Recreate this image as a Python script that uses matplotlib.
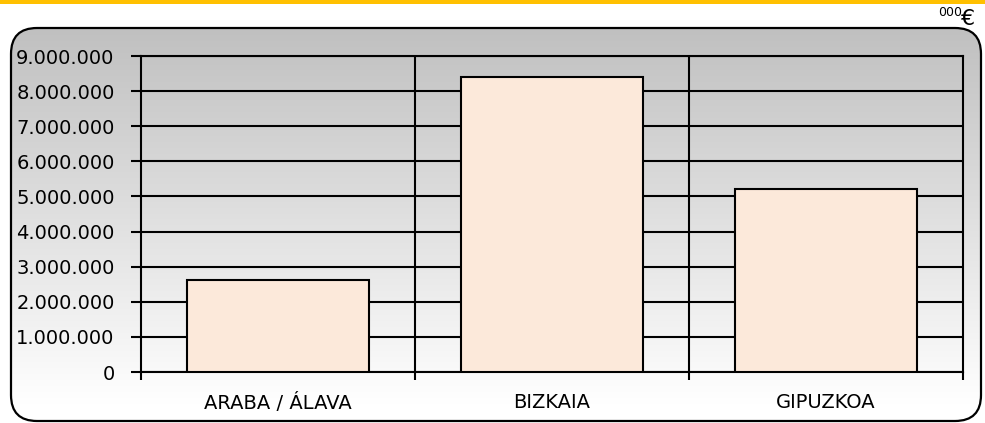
import numpy as np
import matplotlib.pyplot as plt
from matplotlib.patches import FancyBboxPatch, Rectangle
from matplotlib.ticker import FuncFormatter

# --- data ---
provinces = ['ARABA / ÁLAVA', 'BIZKAIA', 'GIPUZKOA']
values = [2630000, 8410000, 5200000]
y_ticks = np.arange(0, 9000001, 1000000)

W, H = 985, 423
fig = plt.figure(figsize=(W / 100, H / 100), dpi=100)
plt.rcParams['font.family'] = ['DejaVu Sans']

# background layer in pixel coords
bg = fig.add_axes([0, 0, 1, 1], zorder=0)
bg.set_xlim(0, W)
bg.set_ylim(H, 0)
bg.axis('off')

# yellow strip at top
bg.add_patch(Rectangle((0, 0), W, 4, facecolor='#FFC000', edgecolor='none'))

# rounded chart area with grey-to-white gradient
bx, by, bw, bh = 11, 28, 970, 393
box = FancyBboxPatch((bx, by), bw, bh, boxstyle='round,pad=0,rounding_size=26',
                     facecolor='none', edgecolor='black', linewidth=1.6, zorder=3)
bg.add_patch(box)
grad = np.linspace(0, 1, 256).reshape(-1, 1)
top_c = np.array([0.753, 0.753, 0.753])
bot_c = np.array([1.0, 1.0, 1.0])
img = top_c + (bot_c - top_c) * grad[..., None]
im = bg.imshow(img, extent=(bx, bx + bw, 405, by), aspect='auto', zorder=1)
clip = FancyBboxPatch((bx, by), bw, bh, boxstyle='round,pad=0,rounding_size=26',
                      facecolor='none', edgecolor='none', transform=bg.transData)
im.set_clip_path(clip)
bg.set_xlim(0, W)
bg.set_ylim(H, 0)

# units label
bg.text(962, 16, '000', fontsize=9, ha='right', va='baseline')
bg.text(961, 25, '€', fontsize=16, ha='left', va='baseline')

# --- main axes ---
ax = fig.add_axes([141 / W, (H - 372) / H, (963 - 141) / W, (372 - 56) / H], zorder=2)
ax.patch.set_alpha(0)
x = np.arange(len(provinces))
ax.bar(x, values, width=0.667, color='#FCE9DA', edgecolor='black', linewidth=1.5, zorder=3)

ax.set_xlim(-0.5, len(provinces) - 0.5)
ax.set_ylim(0, 9000000)
ax.set_yticks(y_ticks)
ax.yaxis.set_major_formatter(FuncFormatter(lambda v, p: f'{int(v):,}'.replace(',', '.')))
ax.yaxis.grid(True, color='black', linewidth=1.5, zorder=1)
for b in np.arange(0.5, len(provinces) - 0.5, 1):
    ax.axvline(b, color='black', linewidth=1.5, zorder=1)

ax.set_xticks(np.arange(-0.5, len(provinces), 1))
ax.set_xticks(x, minor=True)
ax.set_xticklabels([])
ax.set_xticklabels(provinces, minor=True)
ax.tick_params(axis='x', which='major', length=6, width=1.5, direction='out')
ax.tick_params(axis='x', which='minor', length=0, pad=15, labelsize=14)
ax.tick_params(axis='y', length=7, width=1.5, direction='out', labelsize=14, pad=12)
for s in ax.spines.values():
    s.set_linewidth(1.5)
    s.set_color('black')
ax.set_axisbelow(True)

fig.savefig('out.png', dpi=100)
